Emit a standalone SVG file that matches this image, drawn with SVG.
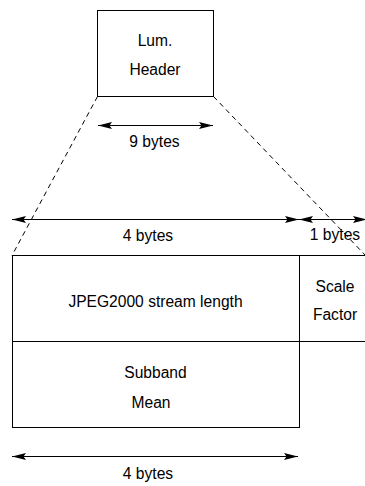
<svg xmlns="http://www.w3.org/2000/svg" width="365" height="486" viewBox="0 0 365 486">
  <defs>
    <style>
      .box { fill: none; stroke: #000; stroke-width: 1; }
      .ln { fill: none; stroke: #000; stroke-width: 1; }
      .dash { fill: none; stroke: #000; stroke-width: 1; stroke-dasharray: 5 4; }
      .arr { fill: none; stroke: #000; stroke-width: 1; marker-start: url(#ah); marker-end: url(#ah); }
      text { font-family: "Liberation Sans", Arial, sans-serif; font-size: 15.6px; fill: #000; text-anchor: middle; }
    </style>
    <marker id="ah" markerUnits="userSpaceOnUse" markerWidth="16" markerHeight="8" refX="14" refY="3.5" orient="auto-start-reverse">
      <path d="M0,0 L14,3.5 L0,7 L2.5,3.5 Z" fill="#000"/>
    </marker>
  </defs>
  <rect width="365" height="486" fill="#fff"/>

  <g id="header">
    <rect class="box" x="97.5" y="10.5" width="116" height="86"/>
    <text x="155" y="46">Lum.</text>
    <text x="155" y="74.5">Header</text>
  </g>

  <g id="stream-length">
    <rect class="box" x="12.5" y="255.5" width="287" height="86"/>
    <text x="155.5" y="306.5">JPEG2000 stream length</text>
  </g>

  <g id="scale-factor">
    <path class="ln" d="M299.5,255.5 H366 M299.5,341.5 H366"/>
    <text x="335" y="292">Scale</text>
    <text x="335" y="320">Factor</text>
  </g>

  <g id="subband-mean">
    <rect class="box" x="12.5" y="341.5" width="287" height="86"/>
    <text x="155.5" y="378">Subband</text>
    <text x="151" y="408">Mean</text>
  </g>

  <g id="connectors">
    <path class="dash" d="M97.5,96.5 L12,255.5"/>
    <path class="dash" d="M213.5,96.5 L366,256"/>
    <path class="arr" d="M98,125.5 H213"/>
    <path class="arr" d="M12,219.5 H299"/>
    <path class="arr" d="M299,219.5 H367"/>
    <path class="arr" d="M12,456.5 H298"/>
  </g>

  <g id="labels">
    <text x="154.5" y="146.5">9 bytes</text>
    <text x="148" y="241">4 bytes</text>
    <text x="335" y="240">1 bytes</text>
    <text x="148" y="479">4 bytes</text>
  </g>
</svg>
